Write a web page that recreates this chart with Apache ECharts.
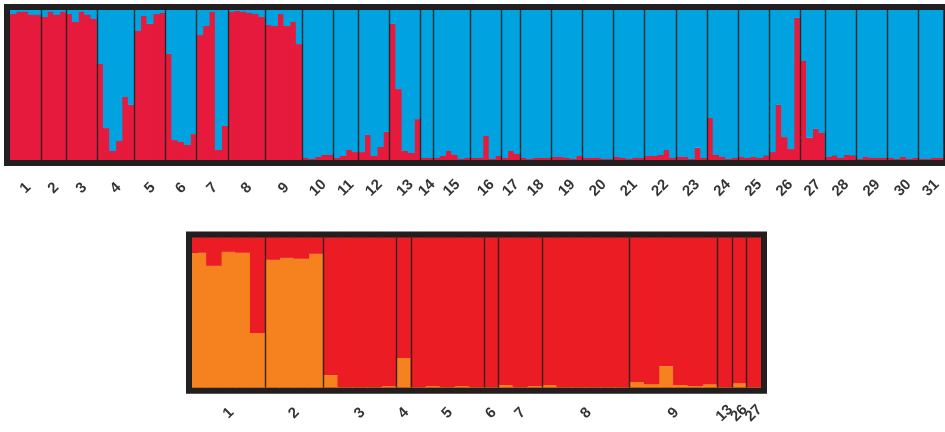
<!DOCTYPE html>
<html>
<head>
<meta charset="utf-8">
<script src="https://cdn.jsdelivr.net/npm/echarts@6/dist/echarts.min.js"></script>
<style>
html,body{margin:0;padding:0;background:#fff;}
#c{width:945px;height:432px;}
</style>
</head>
<body>
<div id="c"></div>
<script>
// ---- Top panel (K=2: red / blue) ----
var topPops = ['1','2','3','4','5','6','7','8','9','10','11','12','13','14','15','16','17','18','19','20','21','22','23','24','25','26','27','28','29','30','31'];
var topCounts = [5,4,5,6,5,5,5,6,6,5,4,5,5,2,6,5,3,5,5,5,5,5,5,5,5,5,4,5,5,5,4];
var topRed = [
  0.973,0.987,0.987,0.967,0.967,
  0.953,0.987,0.967,0.987,
  0.973,0.92,0.987,0.967,0.94,
  0.64,0.213,0.06,0.127,0.42,0.367,
  0.86,0.96,0.907,0.973,0.98,
  0.707,0.133,0.12,0.1,0.173,
  0.833,0.893,0.987,0.067,0.227,
  0.987,0.993,0.987,0.98,0.973,0.953,
  0.9,0.893,0.973,0.893,0.92,0.773,
  0.013,0.007,0.02,0.033,0.033,
  0.013,0.027,0.067,0.053,
  0.053,0.167,0.027,0.087,0.187,
  0.907,0.473,0.06,0.047,0.273,
  0.013,0.013,
  0.013,0.027,0.06,0.033,0.007,0.013,
  0.013,0.013,0.16,0.007,0.027,
  0.013,0.06,0.04,
  0.013,0.007,0.013,0.013,0.013,
  0.02,0.02,0.013,0.007,0.027,
  0.013,0.013,0.013,0.007,0.007,
  0.02,0.013,0.007,0.013,0.013,
  0.027,0.027,0.033,0.067,0.013,
  0.02,0.02,0.007,0.082,0.013,
  0.28,0.033,0.02,0.007,0.013,
  0.02,0.013,0.02,0.013,0.029,
  0.053,0.367,0.153,0.073,0.947,
  0.66,0.149,0.207,0.18,
  0.02,0.029,0.013,0.033,0.029,
  0.007,0.02,0.013,0.013,0.013,
  0.013,0.007,0.02,0.007,0.013,
  0.007,0.007,0.013,0.013
];

// ---- Bottom panel (orange / red) ----
var botPops = ['1','2','3','4','5','6','7','8','9','13','26','27'];
var botCounts = [5,4,5,1,5,1,3,6,6,1,1,1];
var botOrange = [
  0.898,0.811,0.904,0.898,0.364,
  0.851,0.864,0.858,0.891,
  0.084,0.004,0.004,0.004,0.011,
  0.198,
  0.004,0.011,0.004,0.011,0.004,
  0.004,
  0.018,0.004,0.011,
  0.018,0.004,0.004,0.004,0.004,0.004,
  0.038,0.024,0.144,0.018,0.011,0.024,
  0.004,
  0.031,
  0.004
];

// ---- helpers ----
function idx(arr){ return arr.map(function(_,i){return String(i);}); }
function rest(arr){ return arr.map(function(v){return +(1-v).toFixed(4);}); }
function centers(counts, names, y){
  var out=[], s=0;
  counts.forEach(function(c,i){ out.push({name:names[i], value:[s+c/2, y]}); s+=c; });
  return out;
}
function bounds(counts){
  var out=[], s=0;
  for(var i=0;i<counts.length-1;i++){ s+=counts[i]; out.push({xAxis:s}); }
  return out;
}
function total(counts){ return counts.reduce(function(a,b){return a+b;},0); }

var FRAME = '#231F20';
var TOP_RED = '#E61A3C', TOP_BLUE = '#00A3E0';
var BOT_RED = '#EC1C24', BOT_ORANGE = '#F5821F';
var topW = 933.3, topH = 150, botW = 569, botH = 150.2;
// slight overlap between neighbouring bars hides antialiasing seams
var topBarW = topW / topRed.length + 0.8;
var botBarW = botW / botOrange.length + 0.8;

var labelStyle = {
  show:true, position:'inside', rotate:45, align:'center', verticalAlign:'middle',
  formatter:'{b}', color:'#000000', fontFamily:'Liberation Sans, Arial, sans-serif',
  fontWeight:'bold', fontSize:15
};
var sepLine = {
  silent:true, symbol:['none','none'], label:{show:false},
  lineStyle:{color:FRAME, width:1.4, type:'solid', opacity:0.9},
  emphasis:{disabled:true}, animation:false
};

var option = {
  animation:false,
  backgroundColor:'#ffffff',
  grid:[
    {left:10, top:10, width:topW, height:topH, show:true, borderColor:FRAME, borderWidth:12, backgroundColor:'transparent'},
    {left:192, top:237.5, width:botW, height:botH, show:true, borderColor:FRAME, borderWidth:12, backgroundColor:'transparent'}
  ],
  xAxis:[
    {type:'category', gridIndex:0, data:idx(topRed), show:false, boundaryGap:true},
    {type:'value', gridIndex:0, min:0, max:total(topCounts), show:false, splitLine:{show:false}},
    {type:'category', gridIndex:1, data:idx(botOrange), show:false, boundaryGap:true},
    {type:'value', gridIndex:1, min:0, max:total(botCounts), show:false, splitLine:{show:false}}
  ],
  yAxis:[
    {type:'value', gridIndex:0, min:0, max:1, show:false, splitLine:{show:false}},
    {type:'value', gridIndex:1, min:0, max:1, show:false, splitLine:{show:false}}
  ],
  series:[
    {type:'bar', xAxisIndex:0, yAxisIndex:0, stack:'t', data:topRed, barWidth:topBarW,
     itemStyle:{color:TOP_RED}, silent:true},
    {type:'bar', xAxisIndex:0, yAxisIndex:0, stack:'t', data:rest(topRed), barWidth:topBarW,
     itemStyle:{color:TOP_BLUE}, silent:true},
    {type:'scatter', xAxisIndex:1, yAxisIndex:0, symbolSize:0, clip:false, silent:true,
     data:centers(topCounts, topPops, -28/topH), label:labelStyle,
     markLine:Object.assign({data:bounds(topCounts)}, sepLine)},
    {type:'bar', xAxisIndex:2, yAxisIndex:1, stack:'b', data:botOrange, barWidth:botBarW,
     itemStyle:{color:BOT_ORANGE}, silent:true},
    {type:'bar', xAxisIndex:2, yAxisIndex:1, stack:'b', data:rest(botOrange), barWidth:botBarW,
     itemStyle:{color:BOT_RED}, silent:true},
    {type:'scatter', xAxisIndex:3, yAxisIndex:1, symbolSize:0, clip:false, silent:true,
     data:centers(botCounts, botPops, -25.5/botH), label:labelStyle,
     markLine:Object.assign({data:bounds(botCounts)}, sepLine)}
  ]
};
var chart = echarts.init(document.getElementById('c'), null, {renderer:'canvas'});
chart.setOption(option);
</script>
</body>
</html>
